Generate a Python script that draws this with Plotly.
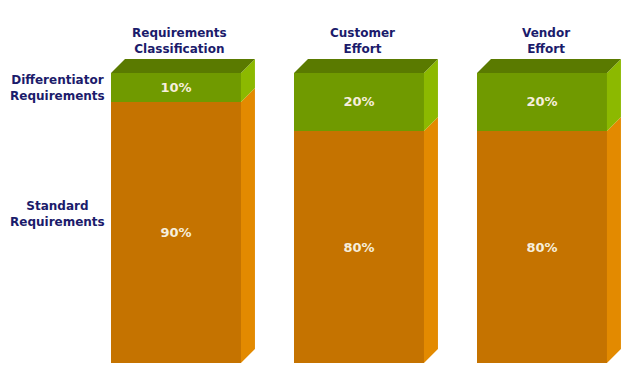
import plotly.graph_objects as go

# ---- data ----
categories = ["Requirements<br>Classification", "Customer<br>Effort", "Vendor<br>Effort"]
standard = [90, 80, 80]
differentiator = [10, 20, 20]
series_names = ["Standard<br>Requirements", "Differentiator<br>Requirements"]
standard_labels = ["90%", "80%", "80%"]
differentiator_labels = ["10%", "20%", "20%"]

# ---- style ----
x_pos = [0, 1, 2]
W = 0.71          # front face width (x units)
DX = 0.0765       # 3D depth in x units
DY = 4.83         # 3D depth in y units
GREEN_FRONT = "#709A00"
GREEN_TOP = "#5A7A00"
GREEN_SIDE = "#8CB900"
ORANGE_FRONT = "#C57300"
ORANGE_SIDE = "#E38A00"
NAVY = "#1B1B6B"
LABEL_TXT = "#F6EEDC"
FONT = "DejaVu Sans"

fig = go.Figure()

fig.add_trace(go.Bar(
    x=x_pos, y=standard, width=W, name="Standard",
    marker=dict(color=ORANGE_FRONT, line=dict(width=0)),
    text=standard_labels, textposition="inside", insidetextanchor="middle",
    textfont=dict(color=LABEL_TXT, size=13, family=FONT, weight="bold"), textangle=0,
    hoverinfo="skip"))
fig.add_trace(go.Bar(
    x=x_pos, y=differentiator, width=W, name="Differentiator",
    marker=dict(color=GREEN_FRONT, line=dict(width=0)),
    text=differentiator_labels, textposition="inside", insidetextanchor="middle",
    textfont=dict(color=LABEL_TXT, size=13, family=FONT, weight="bold"), textangle=0,
    hoverinfo="skip"))


def poly(xs, ys, color):
    fig.add_trace(go.Scatter(x=xs + [xs[0]], y=ys + [ys[0]], fill="toself", mode="lines",
                             fillcolor=color, line=dict(width=0, color=color),
                             hoverinfo="skip", showlegend=False))


for i, x in enumerate(x_pos):
    xl, xr = x - W / 2, x + W / 2
    s = standard[i]
    t = standard[i] + differentiator[i]
    # side faces
    poly([xr, xr + DX, xr + DX, xr], [0, DY, s + DY, s], ORANGE_SIDE)
    poly([xr, xr + DX, xr + DX, xr], [s, s + DY, t + DY, t], GREEN_SIDE)
    # top face
    poly([xl, xl + DX, xr + DX, xr], [t, t + DY, t + DY, t], GREEN_TOP)

LBL_FONT = dict(family=FONT, size=12, color=NAVY, weight="bold")
annotations = []
for i, x in enumerate(x_pos):
    annotations.append(dict(x=x + 0.02, y=111.2, xref="x", yref="y", text=categories[i],
                            showarrow=False, align="center", font=LBL_FONT))
annotations.append(dict(x=-0.648, y=51.5, xref="x", yref="y", text=series_names[0],
                        showarrow=False, align="center", font=LBL_FONT, borderpad=0))
annotations.append(dict(x=-0.648, y=94.8, xref="x", yref="y", text=series_names[1],
                        showarrow=False, align="center", font=LBL_FONT, borderpad=0))

# page body has an 8px margin, so the figure is 622x372 and ranges are set to match
fig.update_layout(
    width=622, height=372,
    margin=dict(l=0, r=0, t=0, b=0),
    paper_bgcolor="white", plot_bgcolor="white",
    barmode="stack", showlegend=False,
    xaxis=dict(range=[-0.918, 2.481], visible=False, fixedrange=True),
    yaxis=dict(range=[-5.86, 122.41], visible=False, fixedrange=True),
    annotations=annotations,
    uniformtext=dict(mode=False),
)

fig.write_html("out.html")
